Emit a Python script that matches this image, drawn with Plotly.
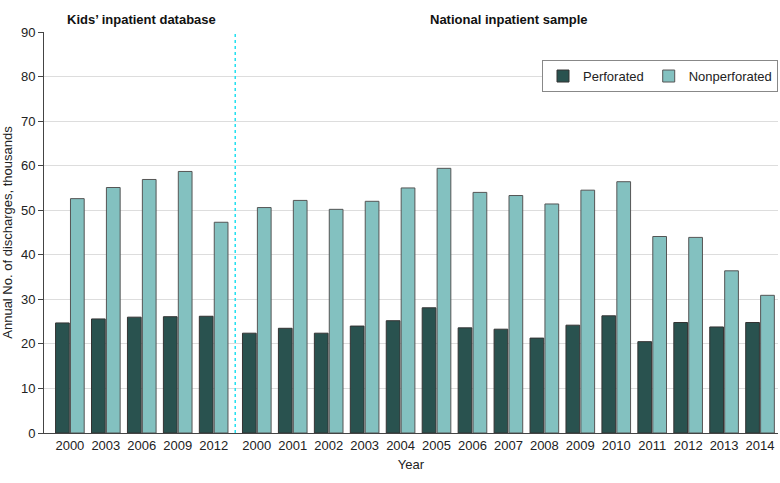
import plotly.graph_objects as go

kid_years = ["2000", "2003", "2006", "2009", "2012"]
nis_years = ["2000", "2001", "2002", "2003", "2004", "2005", "2006", "2007",
             "2008", "2009", "2010", "2011", "2012", "2013", "2014"]

kid_perforated = [24.7, 25.6, 26.0, 26.1, 26.2]
kid_nonperforated = [52.6, 55.1, 56.9, 58.7, 47.3]
nis_perforated = [22.4, 23.5, 22.4, 24.0, 25.2, 28.1, 23.6, 23.3,
                  21.3, 24.2, 26.3, 20.5, 24.8, 23.8, 24.8]
nis_nonperforated = [50.6, 52.2, 50.2, 52.0, 55.0, 59.4, 54.0, 53.3,
                     51.4, 54.5, 56.4, 44.1, 43.9, 36.4, 30.9]

section_gap = 0.2
kid_x = list(range(len(kid_years)))
nis_x = [len(kid_years) + section_gap + i for i in range(len(nis_years))]
xs = kid_x + nis_x
labels = kid_years + nis_years
perforated = kid_perforated + nis_perforated
nonperforated = kid_nonperforated + nis_nonperforated

FONT = "Liberation Sans, Arial, sans-serif"

fig = go.Figure()
fig.add_trace(go.Bar(x=xs, y=perforated, name="Perforated",
                     marker=dict(color="#29524f", line=dict(color="#333333", width=1))))
fig.add_trace(go.Bar(x=xs, y=nonperforated, name="Nonperforated",
                     marker=dict(color="#83c1c0", line=dict(color="#555555", width=1))))

sep = (kid_x[-1] + nis_x[0]) / 2
fig.add_shape(type="line", x0=sep, x1=sep, y0=0, y1=90, xref="x", yref="y",
              line=dict(color="#22e0f0", width=1.5, dash="dot"))

fig.add_annotation(x=(kid_x[0] + kid_x[-1]) / 2, y=1.0, xref="x", yref="paper",
                   yanchor="bottom", yshift=3, showarrow=False,
                   text="<b>Kids’ inpatient database</b>",
                   font=dict(family=FONT, size=13, color="#111111"))
fig.add_annotation(x=(nis_x[0] + nis_x[-1]) / 2, y=1.0, xref="x", yref="paper",
                   yanchor="bottom", yshift=3, showarrow=False,
                   text="<b>National inpatient sample</b>",
                   font=dict(family=FONT, size=13, color="#111111"))

fig.update_layout(
    width=780, height=483,
    margin=dict(l=44, r=2, t=32, b=50),
    paper_bgcolor="white", plot_bgcolor="white",
    barmode="group", bargap=0.17, bargroupgap=0.08,
    font=dict(family=FONT, size=13, color="#222222"),
    legend=dict(orientation="h", x=1.0, xanchor="right", y=0.93, yanchor="top",
                bgcolor="white", bordercolor="#888888", borderwidth=1,
                font=dict(family=FONT, size=13, color="#222222")),
    showlegend=True,
)
fig.update_xaxes(range=[nis_x[0] - section_gap - 5.72, nis_x[-1] + 0.5],
                 tickmode="array", tickvals=xs, ticktext=labels,
                 showgrid=False, showline=True, linecolor="#444444", linewidth=1,
                 ticks="", title=dict(text="Year", standoff=8,
                                      font=dict(family=FONT, size=13)),
                 tickfont=dict(family=FONT, size=13))
fig.update_yaxes(range=[0, 90], dtick=10, showgrid=True, gridcolor="#dddddd",
                 gridwidth=1, showline=True, linecolor="#444444", linewidth=1,
                 ticks="outside", ticklen=5, tickcolor="#444444", zeroline=False,
                 title=dict(text="Annual No. of discharges, thousands", standoff=6,
                            font=dict(family=FONT, size=13)),
                 tickfont=dict(family=FONT, size=13))

fig.write_html("out.html", config={"displayModeBar": False},
               post_script="document.body.style.margin='0';document.body.style.overflow='hidden';")
